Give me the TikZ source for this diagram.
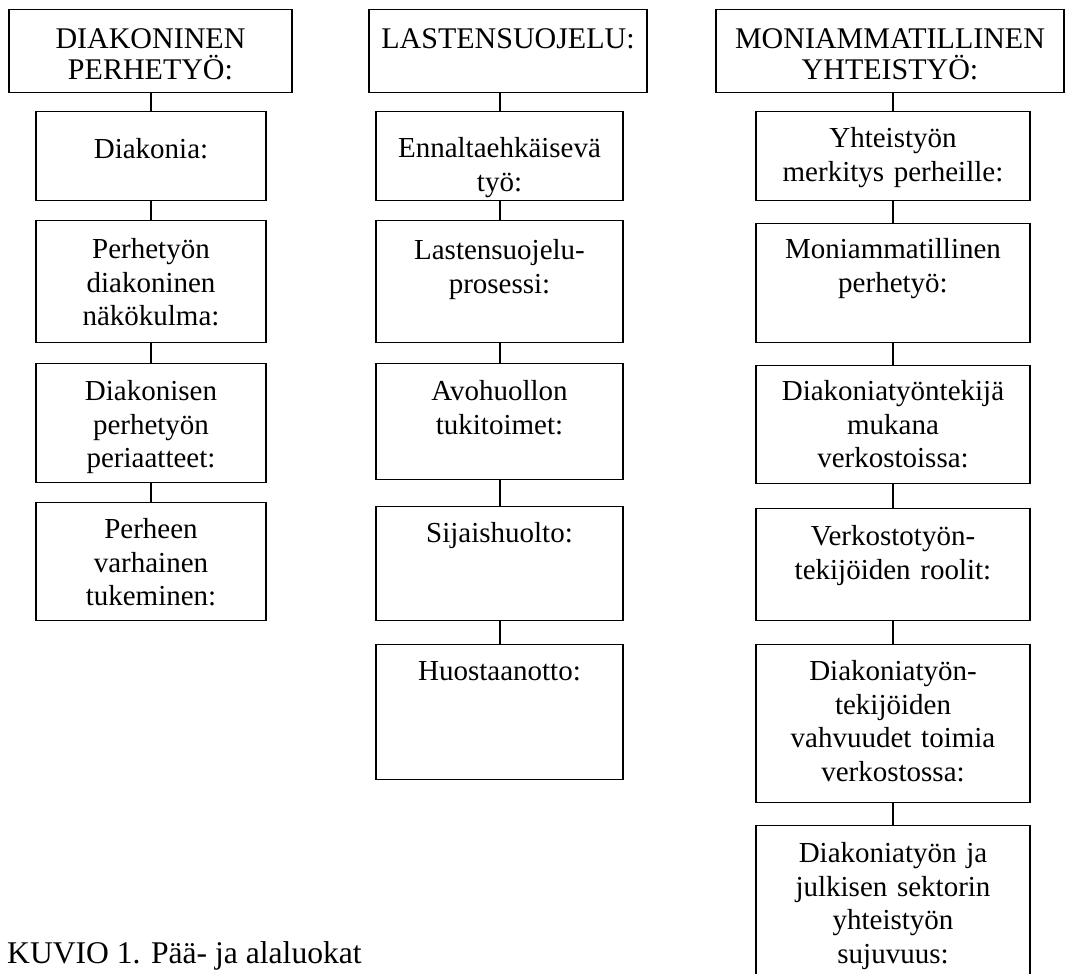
\documentclass[tikz,border=0pt]{standalone}
\usepackage{fontspec}
\setmainfont{Liberation Serif}

\tikzset{
  otsikko/.style={draw,line width=1.3pt,inner sep=0pt,anchor=north,align=center,
    font=\fontsize{30}{30.5}\selectfont,text height=39pt,text depth=44pt},
  ala/.style={draw,line width=1.3pt,inner sep=0pt,anchor=north,align=center,
    font=\fontsize{29}{33.5}\selectfont},
  viiva/.style={line width=2pt}
}

\begin{document}
\begin{tikzpicture}[x=1pt,y=-1pt]
\useasboundingbox (0,0) rectangle (1066,974);

% paaluokat
\node[otsikko,text width=283pt] (h1) at (150.5,9) {DIAKONINEN\\PERHETYÖ:};
\node[otsikko,text width=278pt] (h2) at (508,9) {LASTENSUOJELU:\hspace*{20pt}};
\node[otsikko,text width=348pt] (h3) at (890,9) {MONIAMMATILLINEN\\YHTEISTYÖ:};

% diakoninen perhetyo
\node[ala,text width=230pt,text height=47pt,text depth=42pt] (d1) at (151,111) {Diakonia:};
\node[ala,text width=230pt,text height=38pt,text depth=84pt] (d2) at (151,220) {Perhetyön\\diakoninen\\näkökulma:};
\node[ala,text width=230pt,text height=37pt,text depth=82pt] (d3) at (151,363) {Diakonisen\\perhetyön\\periaatteet:};
\node[ala,text width=230pt,text height=36pt,text depth=82pt] (d4) at (151,502) {Perheen\\varhainen\\tukeminen:};

% lastensuojelu
\node[ala,text width=247pt,text height=46pt,text depth=43pt] (l1) at (499.5,111) {Ennaltaehkäisevä\\työ:};
\node[ala,text width=247pt,text height=39pt,text depth=83pt] (l2) at (499.5,220) {Lastensuojelu-\\prosessi:};
\node[ala,text width=247pt,text height=37pt,text depth=79pt] (l3) at (499.5,363) {Avohuollon\\tukitoimet:};
\node[ala,text width=247pt,text height=36pt,text depth=78pt] (l4) at (499.5,506) {Sijaishuolto:};
\node[ala,text width=247pt,text height=36pt,text depth=99pt] (l5) at (499.5,644) {Huostaanotto:};

% moniammatillinen yhteistyo
\node[ala,text width=274pt,text height=36pt,text depth=53pt] (m1) at (893,111) {Yhteistyön\\merkitys perheille:};
\node[ala,text width=274pt,text height=35pt,text depth=84pt] (m2) at (893,223) {Moniammatillinen\\perhetyö:};
\node[ala,text width=274pt,text height=35pt,text depth=83pt] (m3) at (893,365) {Diakoniatyöntekijä\\mukana\\verkostoissa:};
\node[ala,text width=274pt,text height=37pt,text depth=75pt] (m4) at (893,508) {Verkostotyön-\\tekijöiden roolit:};
\node[ala,text width=274pt,text height=36pt,text depth=122pt] (m5) at (893,644) {Diakoniatyön-\\tekijöiden\\vahvuudet toimia\\verkostossa:};
\node[ala,text width=274pt,text height=37pt,text depth=125pt] (m6) at (893,825) {Diakoniatyön ja\\julkisen sektorin\\yhteistyön\\sujuvuus:};

\node[anchor=base west,inner sep=0pt,font=\fontsize{31.6}{36}\selectfont] (kuvio) at (7,963) {KUVIO 1. Pää- ja alaluokat};

% viivat
\draw[viiva] (d1.north) -- (d1.north |- h1.south);
\draw[viiva] (d1) -- (d2) (d2) -- (d3) (d3) -- (d4);
\draw[viiva] (l1.north) -- (l1.north |- h2.south);
\draw[viiva] (l1) -- (l2) (l2) -- (l3) (l3) -- (l4) (l4) -- (l5);
\draw[viiva] (m1.north) -- (m1.north |- h3.south);
\draw[viiva] (m1) -- (m2) (m2) -- (m3) (m3) -- (m4) (m4) -- (m5) (m5) -- (m6);
\end{tikzpicture}
\end{document}
